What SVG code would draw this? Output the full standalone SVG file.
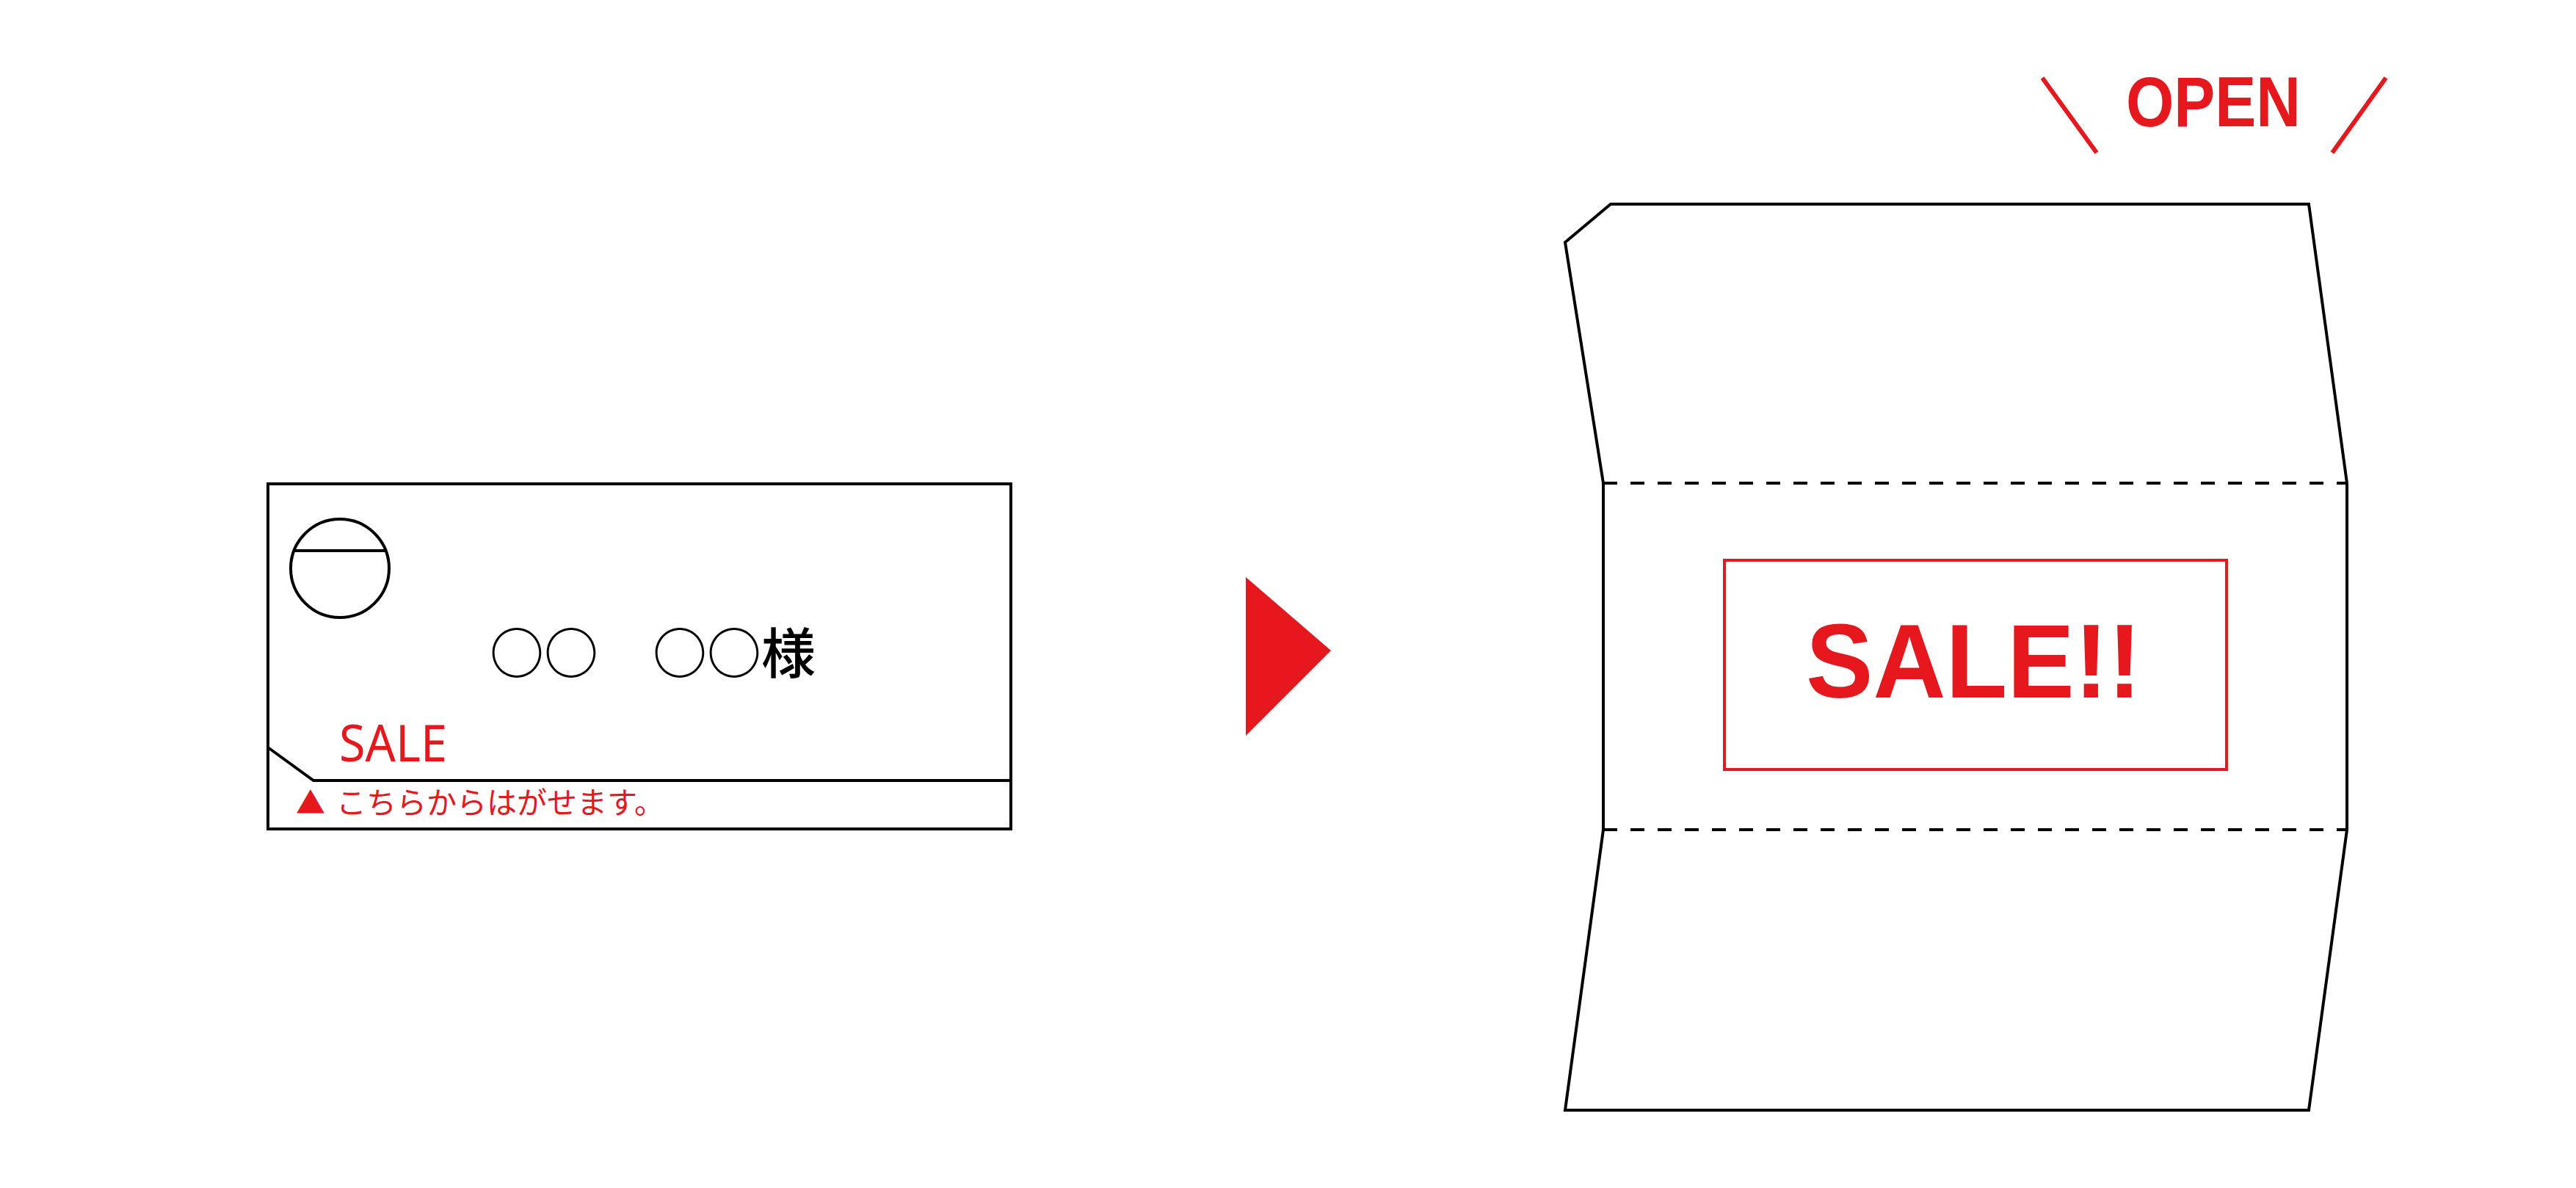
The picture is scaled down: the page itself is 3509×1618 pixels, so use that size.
<svg xmlns="http://www.w3.org/2000/svg" width="3509" height="1618" viewBox="0 0 3509 1618">
<style>
.ln{fill:none;stroke:#000;stroke-width:4;stroke-linejoin:miter}
.dash{fill:none;stroke:#000;stroke-width:4;stroke-dasharray:19 18}
.red{fill:#e6171d}
.rln{fill:none;stroke:#e6171d}
.jp{font-family:"Noto Sans CJK JP","Noto Sans",sans-serif}
.bold{font-family:"Liberation Sans",Arial,sans-serif;font-weight:bold}
</style>
<rect width="3509" height="1618" fill="#fff"/>
<g id="card-before">
  <rect x="365" y="659" width="1012" height="470" class="ln"/>
  <circle cx="463" cy="774" r="67" class="ln"/>
  <line x1="400" y1="750" x2="526" y2="750" class="ln"/>
  <polyline points="365,1018 427,1063 1377,1063" class="ln"/>
  <text x="667" y="917" class="jp" font-size="74" font-weight="500" fill="#000">○○　○○様</text>
  <text x="462" y="1037" font-family="'Noto Sans','Open Sans',sans-serif" font-size="70" class="red" textLength="147" lengthAdjust="spacingAndGlyphs">SALE</text>
  <text x="403" y="1108" class="jp red" font-size="40">▲</text>
  <text x="458" y="1108" class="jp red" font-size="41">こちらからはがせます。</text>
</g>
<g id="connectors">
  <polygon points="1697,786 1813,886 1697,1002" class="red"/>
</g>
<g id="card-after">
  <path d="M2184,658 L2132,330 L2194,278 L3145,278 L3197,658" class="ln"/>
  <line x1="2184" y1="658" x2="2184" y2="1130" class="ln"/>
  <line x1="3197" y1="658" x2="3197" y2="1130" class="ln"/>
  <path d="M2184,1130 L2132,1512 L3145,1512 L3197,1130" class="ln"/>
  <line x1="2184" y1="658" x2="3197" y2="658" class="dash"/>
  <line x1="2184" y1="1130" x2="3197" y2="1130" class="dash"/>
  <rect x="2349" y="763" width="684" height="285" class="rln" stroke-width="4"/>
  <text x="2460" y="950" class="bold red" font-size="142" textLength="457" lengthAdjust="spacingAndGlyphs">SALE!!</text>
</g>
<g id="open-label">
  <line x1="2782" y1="106" x2="2856" y2="208" class="rln" stroke-width="6"/>
  <line x1="3250" y1="106" x2="3177" y2="208" class="rln" stroke-width="6"/>
  <text x="2896" y="172" class="bold red" font-size="96" textLength="238" lengthAdjust="spacingAndGlyphs">OPEN</text>
</g>
</svg>
